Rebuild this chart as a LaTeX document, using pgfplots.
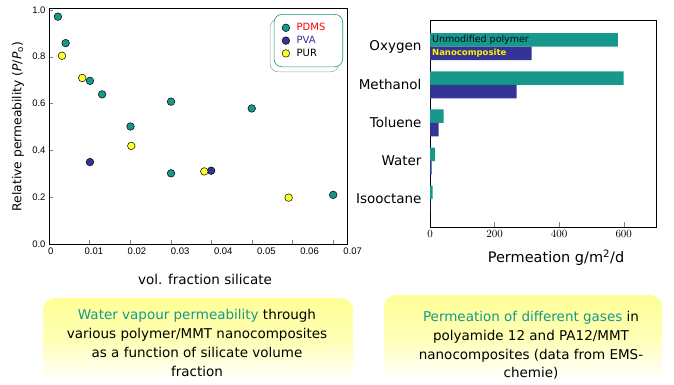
\documentclass[border=0pt]{standalone}
\usepackage{pgfplots}
\pgfplotsset{compat=1.18}
\usepackage{fontspec}
\setmainfont{DejaVu Sans}
\newfontfamily\arialf{Liberation Sans}
\usetikzlibrary{shadows}
\definecolor{tealc}{RGB}{22,152,140}
\definecolor{navyc}{RGB}{52,52,150}
\definecolor{yelc}{RGB}{255,255,40}
\definecolor{boxy}{RGB}{255,255,150}
\begin{document}
\begin{tikzpicture}[x=1pt,y=1pt]
\useasboundingbox (0,0) rectangle (674,384);
% caption boxes
\shade[rounded corners=12pt, top color=boxy, bottom color=white, middle color=boxy!70] (43,3) rectangle (353,86);
\shade[rounded corners=12pt, top color=boxy, bottom color=white, middle color=boxy!70] (384,5) rectangle (662,89);
\node[align=center, font=\fontsize{13.5}{18.7}\selectfont] at (197,41)
 {\textcolor{tealc}{Water vapour permeability} through\\various polymer/MMT nanocomposites\\as a function of silicate volume\\fraction};
\node[align=center, font=\fontsize{13.5}{18.7}\selectfont] at (531,38.5)
 {\textcolor{tealc}{Permeation of different gases} in\\polyamide 12 and PA12/MMT\\nanocomposites (data from EMS-\\chemie)};
% axis labels
\node[rotate=90, font=\fontsize{12.3}{14}\selectfont] at (18,257.5) {Relative permeability (\textit{P}/\textit{P}\textsubscript{o})};
\node[font=\fontsize{13.5}{15}\selectfont] at (205,105) {vol. fraction silicate};
\node[font=\fontsize{14.5}{16}\selectfont] at (556,126) {Permeation g/m\textsuperscript{2}/d};

\begin{axis}[at={(49pt,140pt)}, anchor=south west, scale only axis,
  width=298pt, height=236pt,
  xmin=0, xmax=0.0735, ymin=0, ymax=1.008,
  scaled x ticks=false, scaled y ticks=false,
  xtick={0,0.01,0.02,0.03,0.04,0.05,0.06,0.07},
  xticklabels={\hspace*{3.4pt}0,\hspace*{8.6pt}0.01,\hspace*{13.8pt}0.02,\hspace*{19pt}0.03,\hspace*{24.2pt}0.04,\hspace*{29.4pt}0.05,\hspace*{34.6pt}0.06,\hspace*{39.8pt}0.07},
  ytick={0,0.2,0.4,0.6,0.8,1.0},
  yticklabels={0.0,0.2,0.4,0.6,0.8,1.0},
  tick label style={font=\arialf\fontsize{9.5}{11}\selectfont},
  tick align=inside, major tick length=4pt,
  xtick pos=bottom, ytick pos=left,
  axis line style={line width=0.8pt},
  legend style={at={(1,1)}, anchor=north east, xshift=-4pt, yshift=-6pt,
    draw=tealc, rounded corners=8pt, fill=white, line width=0.6pt,
    font=\fontsize{10}{12}\selectfont, inner xsep=8pt, inner ysep=7pt, row sep=0pt,
    drop shadow={shadow xshift=-4pt, shadow yshift=-5pt, fill=none, draw=gray!70, opacity=1}},
  legend cell align=left,
]
\addplot[only marks, mark=*, mark size=3.8pt, mark options={fill=tealc, draw=black, line width=0.5pt}] coordinates {
(0.0022,0.971) (0.0041,0.858) (0.0101,0.697) (0.0131,0.639) (0.0201,0.502) (0.0301,0.608) (0.0301,0.302) (0.0500,0.579) (0.0701,0.210)};
\addplot[only marks, mark=*, mark size=3.8pt, mark options={fill=navyc, draw=black, line width=0.5pt}] coordinates {
(0.0101,0.350) (0.0400,0.313)};
\addplot[only marks, mark=*, mark size=3.8pt, mark options={fill=yelc, draw=black, line width=0.5pt}] coordinates {
(0.0032,0.804) (0.0082,0.709) (0.0203,0.419) (0.0383,0.310) (0.0591,0.198)};
\legend{\hspace*{5pt}\makebox[36pt][l]{\textcolor{red}{PDMS}},\hspace*{5pt}\textcolor{navyc}{PVA},\hspace*{5pt}PUR}
\end{axis}

\begin{axis}[at={(430pt,157pt)}, anchor=south west, scale only axis,
  width=226pt, height=207pt,
  xmin=0, xmax=700, ymin=-0.73, ymax=4.7,
  xtick={0,200,400,600},
  ytick={0,1,2,3,4},
  yticklabels={Isooctane,Water,Toluene,Methanol,Oxygen},
  xticklabel style={font=\arialf\fontsize{10.5}{12}\selectfont},
  yticklabel style={font=\fontsize{13.5}{15}\selectfont},
  ytick style={draw=none},
  tick align=inside, major tick length=5pt,
  xtick pos=bottom,
  axis line style={line width=0.8pt},
  xbar, bar width=13.5pt,
]
\addplot[fill=tealc, draw=none, bar shift=6.75pt] coordinates {(582,4) (600,3) (42,2) (15,1) (8,0)};
\addplot[fill=navyc, draw=none, bar shift=-6.75pt] coordinates {(315,4) (268,3) (27,2) (5,1) (1,0)};
\node[anchor=west, font=\fontsize{9.5}{10}\selectfont, text=black!85!navyc, inner sep=0pt] at ([yshift=7pt]axis cs:6,4) {Unmodified polymer};
\node[anchor=west, font=\bfseries\fontsize{8.5}{10}\selectfont, text=yellow, inner sep=0pt] at ([yshift=-6.5pt]axis cs:6,4) {Nanocomposite};
\end{axis}
\end{tikzpicture}
\end{document}
